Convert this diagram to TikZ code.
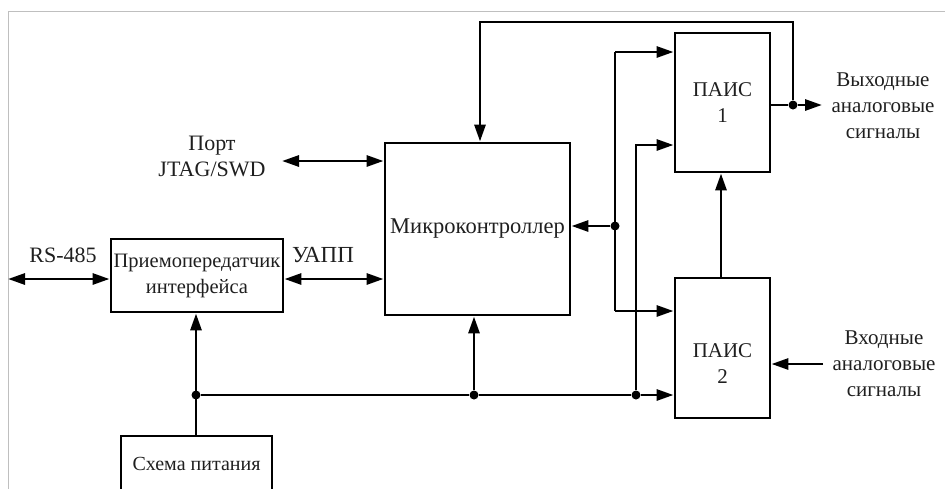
\documentclass[tikz,border=0pt]{standalone}
\usepackage{fontspec}
\setmainfont{Liberation Serif}
\usetikzlibrary{arrows.meta}
\newcommand{\fsz}[1]{\fontsize{#1}{26}\selectfont}
\begin{document}
\begin{tikzpicture}[x=1pt,y=-1pt,
  blk/.style={draw,line width=2.9pt,inner sep=0pt,align=center},
  conn/.style={line width=2.9pt,-{Triangle[length=17pt,width=11pt]}},
  biconn/.style={line width=2.9pt,{Triangle[length=17pt,width=11pt]}-{Triangle[length=17pt,width=11pt]}},
  wire/.style={line width=2.9pt},
  dot/.style={circle,fill,inner sep=0pt,minimum size=9pt},
  lbl/.style={align=center,inner sep=0pt},
  every node/.style={font=\fsz{21},text=black!88}]
\useasboundingbox (0,0) rectangle (945,488);
\clip (0,0) rectangle (945,488);
% frame
\draw[line width=1pt,black!25] (945,11) -- (8,11) -- (8,490);
% blocks
\node[blk,minimum width=185pt,minimum height=172pt,font=\fsz{22.5}] (mc) at (477.5,229) {Микроконтроллер};
\node[blk,minimum width=172pt,minimum height=73pt,font=\fsz{20.5}] (tr) at (197,275.5) {Приемопередатчик\\интерфейса};
\node[blk,minimum width=151pt,minimum height=56pt,font=\fsz{20}] (ps) at (196.5,464) {Схема питания};
\node[blk,minimum width=95pt,minimum height=139pt] (p1) at (722.5,102.5) {ПАИС\\1};
\node[blk,minimum width=95pt,minimum height=140pt] (p2) at (722.5,348) {};
\node[lbl] (p2t) at (722.5,364) {ПАИС\\2};
% labels
\node[lbl,font=\fsz{22}] (jtl) at (212,156) {Порт\\JTAG/SWD};
\node[lbl,font=\fsz{22}] (rsl) at (63,255) {RS-485};
\node[lbl,font=\fsz{23}] (ual) at (323,255) {УАПП};
\node[lbl] (outl) at (883,106) {Выходные\\аналоговые\\сигналы};
\node[lbl] (inl) at (884,364) {Входные\\аналоговые\\сигналы};
% coordinates
\coordinate (jt) at (282,161);
\coordinate (rs) at (8,279);
\coordinate (out) at (822,105);
\coordinate (in) at (823,364);
\node[dot] (d1) at (196,395) {};
\node[dot] (d2) at (474,395) {};
\node[dot] (d3) at (636,395) {};
\node[dot] (d4) at (615,226) {};
\node[dot] (d5) at (793,105) {};
\coordinate (b1) at (615,52);
\coordinate (b2) at (615,311);
\coordinate (c1) at (636,145);
% connectors
\draw[biconn] (jt) -- (jt -| mc.west);
\draw[biconn] (rs) -- (rs -| tr.west);
\draw[biconn] (tr.east |- rs) -- (mc.west |- rs);
\draw[conn] (ps.north -| d1) -- (tr.south -| d1);
\draw[conn] (d1) -- (d2) -- (d3) -- (d3 -| p2.west);
\draw[conn] (d2) -- (d2 |- mc.south);
\draw[conn] (d5) -- (793,22) -- (480,22) -- (480,143 |- mc.north);
\draw[wire] (p1.east |- d5) -- (d5);
\draw[conn] (d5) -- (out);
\draw[conn] (d4) -- (d4 -| mc.east);
\draw[wire] (b1) -- (b2);
\draw[conn] (b1) -- (b1 -| p1.west);
\draw[conn] (b2) -- (b2 -| p2.west);
\draw[conn] (d3) -- (c1) -- (c1 -| p1.west);
\draw[conn] (p2.north -| 721,0) -- (p1.south -| 721,0);
\draw[conn] (in) -- (in -| p2.east);
\end{tikzpicture}
\end{document}
